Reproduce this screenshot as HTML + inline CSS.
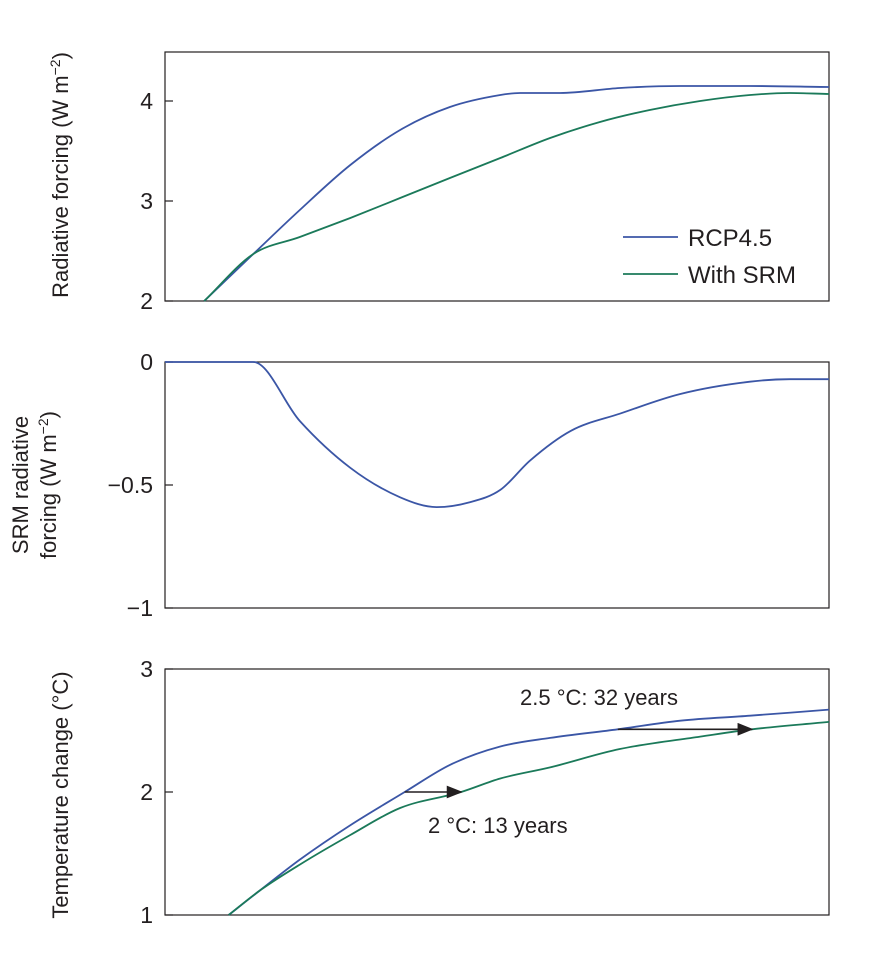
<!DOCTYPE html>
<html><head><meta charset="utf-8"><style>
body{margin:0;background:#fff;}
svg text{font-family:"Liberation Sans",sans-serif;fill:#231f20;}
</style></head><body>
<svg id="c" width="890" height="949" xmlns="http://www.w3.org/2000/svg"></svg>
<script>
const rcpYears=[5.9,13.3,20.3,27.9,35.4,42.9,50.5,53.5,59.5,68.5,77.6,88.1,100];
const rcpForcing=[2.0,2.47,2.91,3.36,3.71,3.94,4.06,4.08,4.08,4.13,4.15,4.15,4.14];
const srmYears=[5.9,13.3,20.3,27.9,35.4,42.9,50.5,58,65.5,73,80.6,88.1,94.1,100];
const srmForcing=[2.0,2.47,2.64,2.83,3.03,3.23,3.43,3.63,3.79,3.91,4.0,4.06,4.08,4.07];
const srmRfYears=[0,13.3,20.3,27.9,35.4,40.9,45.9,50.5,55,61.1,68.5,77.6,88.1,94.1,100];
const srmRf=[0,0,-0.24,-0.43,-0.55,-0.59,-0.57,-0.52,-0.40,-0.28,-0.21,-0.13,-0.08,-0.07,-0.07];
const tRcpYears=[9.6,14.3,20.3,27.9,36.1,42.9,50.5,58,68.2,77.6,88.1,100];
const tRcp=[1.0,1.2,1.45,1.73,2.0,2.22,2.37,2.44,2.51,2.58,2.62,2.67];
const tSrmYears=[9.6,14.3,20.3,27.9,35.4,44.6,50.5,58,68.5,80.6,88.4,100];
const tSrm=[1.0,1.2,1.41,1.65,1.87,2.0,2.11,2.20,2.35,2.45,2.51,2.57];
const p1Ticks=[2,3,4],p1Labels=["2","3","4"];
const p2Ticks=[0,-0.5,-1],p2Labels=["0","\u22120.5","\u22121"];
const p3Ticks=[1,2,3],p3Labels=["1","2","3"];
const NS="http://www.w3.org/2000/svg",svg=document.getElementById('c');
const X0=165,X1=829;
const sx=v=>X0+(X1-X0)*v/100;
function el(t,a,txt){const e=document.createElementNS(NS,t);for(const k in a)e.setAttribute(k,a[k]);if(txt!==undefined)e.textContent=txt;svg.appendChild(e);return e;}
function panel(name,top,bot,lo,hi,ticks,labels){
  const sy=v=>bot-(bot-top)*(v-lo)/(hi-lo);
  const r=el('rect',{x:X0,y:top,width:X1-X0,height:bot-top,fill:'none',stroke:'#231f20','stroke-width':1.2});
  
  
  ticks.forEach((t,i)=>{
    const l=el('line',{x1:X0,x2:X0+8,y1:sy(t),y2:sy(t),stroke:'#231f20','stroke-width':1.2});
    
    
    const tx=el('text',{x:X0-12,y:sy(t)+8,'text-anchor':'end','font-size':23},labels[i]);
    
    
  });
  return sy;
}
function line(name,xs,ys,sy,color){
  const P=xs.map((x,i)=>[sx(x),sy(ys[i])]);
  const n=P.length,dl=[],m=[];
  for(let i=0;i<n-1;i++)dl.push((P[i+1][1]-P[i][1])/(P[i+1][0]-P[i][0]));
  for(let i=0;i<n;i++){
    if(i===0)m.push(dl[0]);else if(i===n-1)m.push(dl[n-2]);
    else m.push(dl[i-1]*dl[i]<=0?0:(dl[i-1]+dl[i])/2);
  }
  for(let i=0;i<n-1;i++){
    if(dl[i]===0){m[i]=0;m[i+1]=0;continue;}
    const a=m[i]/dl[i],b=m[i+1]/dl[i],s=a*a+b*b;
    if(s>9){const t=3/Math.sqrt(s);m[i]=t*a*dl[i];m[i+1]=t*b*dl[i];}
  }
  let d='M'+P[0][0].toFixed(1)+','+P[0][1].toFixed(1);
  for(let i=0;i<n-1;i++){
    const h=(P[i+1][0]-P[i][0])/3;
    d+=`C${(P[i][0]+h).toFixed(1)},${(P[i][1]+m[i]*h).toFixed(1)} ${(P[i+1][0]-h).toFixed(1)},${(P[i+1][1]-m[i+1]*h).toFixed(1)} ${P[i+1][0].toFixed(1)},${P[i+1][1].toFixed(1)}`;
  }
  const p=el('path',{d:d,fill:'none',stroke:color,'stroke-width':1.8,'stroke-linejoin':'round'});
  
  
}
const BLUE='#3b56a6',GREEN='#1b7a5a';
const sy1=panel('forcing-panel',52,301,2,4.49,p1Ticks,p1Labels);
line('rcp45-forcing-line',rcpYears,rcpForcing,sy1,BLUE);
line('srm-forcing-line',srmYears,srmForcing,sy1,GREEN);
const sy2=panel('srm-panel',362,608,-1,0,p2Ticks,p2Labels);
line('srm-radiative-forcing-line',srmRfYears,srmRf,sy2,BLUE);
const sy3=panel('temperature-panel',669,915,1,3,p3Ticks,p3Labels);
line('rcp45-temperature-line',tRcpYears,tRcp,sy3,BLUE);
line('srm-temperature-line',tSrmYears,tSrm,sy3,GREEN);
[[BLUE,'RCP4.5',246,'legend-rcp45'],[GREEN,'With SRM',283,'legend-srm']].forEach(([c,t,y,n])=>{
  const l=el('line',{x1:623,x2:678,y1:y-9,y2:y-9,stroke:c,'stroke-width':1.8});
  
  
  const tx=el('text',{x:688,y:y,'font-size':24},t);
  
  
});
el('defs',{}).innerHTML='<marker id="ah" markerWidth="10" markerHeight="8" refX="9" refY="4" orient="auto"><path d="M0,0L10,4L0,8z" fill="#231f20"/></marker>';
[[36.1,44.6,2.0,'arrow-2c'],[68.2,88.4,2.51,'arrow-2-5c']].forEach(([a,b,v,n])=>{
  const l=el('line',{x1:sx(a),x2:sx(b),y1:sy3(v),y2:sy3(v),stroke:'#231f20','stroke-width':1.6,'marker-end':'url(#ah)'});
  
  
});
const a1=el('text',{x:520,y:705,'font-size':22},'2.5 °C: 32 years');


const a2=el('text',{x:428,y:833,'font-size':22},'2 °C: 13 years');


function yt(n,x,y,lines){
  const t=el('text',{transform:`translate(${x},${y}) rotate(-90)`,'text-anchor':'middle','font-size':22});
  
  
  t.innerHTML=lines;
}
yt('y-title-forcing',68,175,'Radiative forcing (W m<tspan baseline-shift="super" font-size="14">−2</tspan>)');
yt('y-title-srm',42,485,'<tspan x="0" dy="-14">SRM radiative</tspan><tspan x="0" dy="28">forcing (W m<tspan baseline-shift="super" font-size="14">−2</tspan>)</tspan>');
yt('y-title-temperature',68,795,'Temperature change (°C)');
</script>
</body></html>
